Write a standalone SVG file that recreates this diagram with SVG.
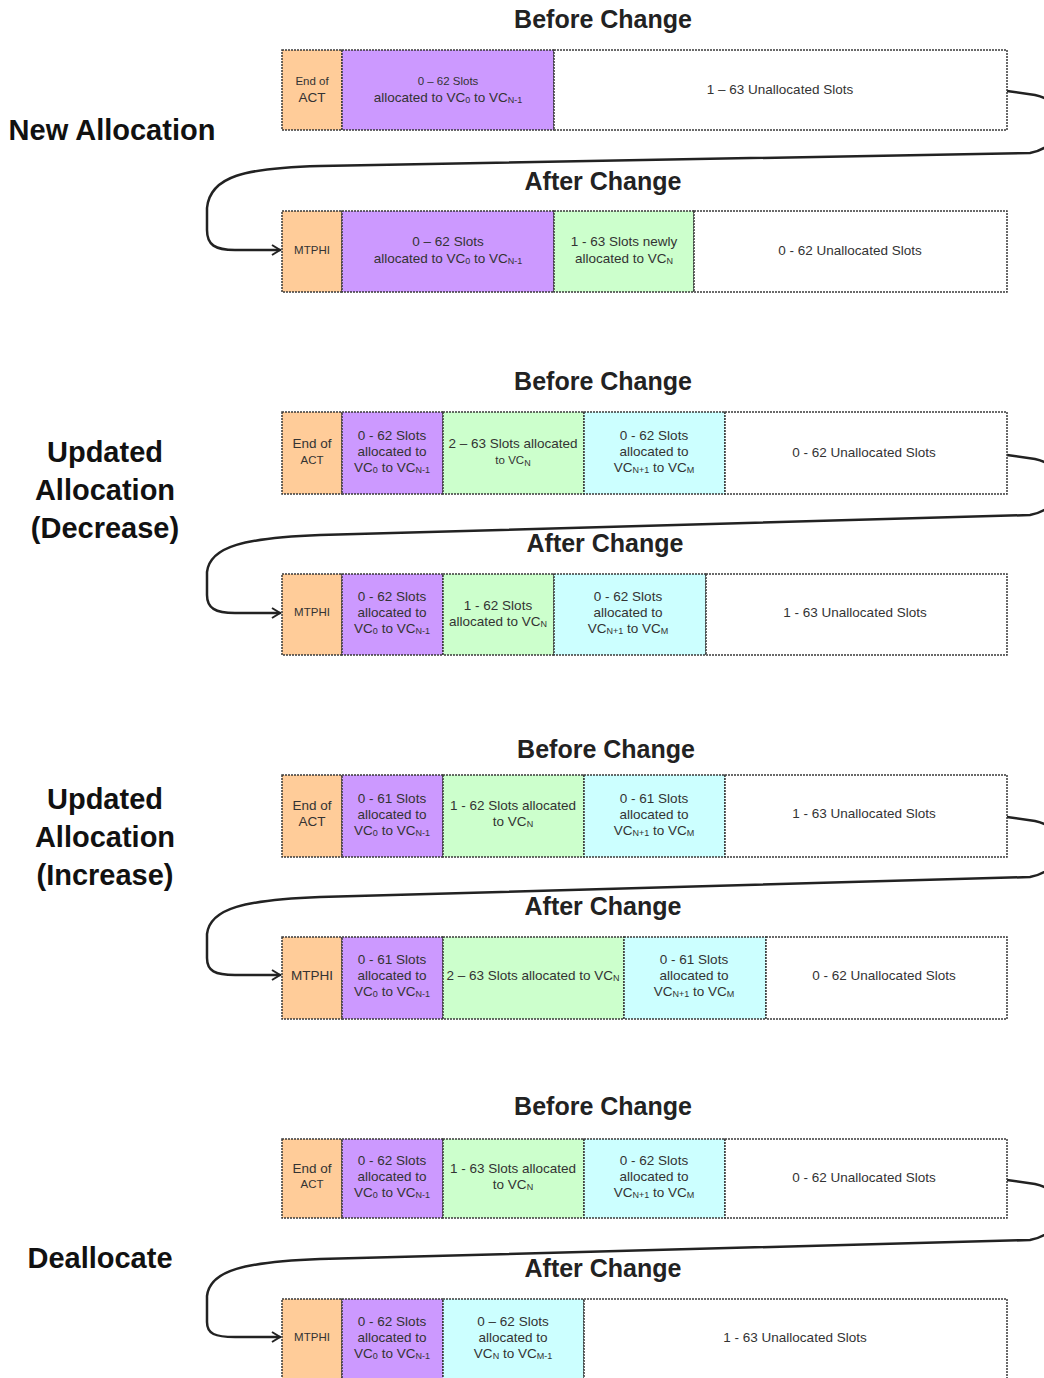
<svg xmlns="http://www.w3.org/2000/svg" width="1044" height="1378" viewBox="0 0 1044 1378">
<style>
.bg{fill:#fff}
.cell{stroke:#3a3a3a;stroke-width:1.5;stroke-dasharray:2 1}
.hdr{fill:#FFCC99}
.pur{fill:#CC99FF}
.grn{fill:#CCFFCC}
.cyn{fill:#CCFFFF}
.wht{fill:#fff}
.t{font-family:"Liberation Sans",Arial,sans-serif;font-size:13.5px;fill:#333;text-anchor:middle;dominant-baseline:central}
.ts{font-family:"Liberation Sans",Arial,sans-serif;font-size:11.5px;fill:#333;text-anchor:middle;dominant-baseline:central}
.title{font-family:"Liberation Sans",Arial,sans-serif;font-size:25px;font-weight:bold;fill:#222;text-anchor:middle}
.lbl{font-family:"Liberation Sans",Arial,sans-serif;font-size:29px;font-weight:bold;fill:#111;text-anchor:middle}
.conn{fill:none;stroke:#222;stroke-width:2.5;stroke-linecap:round}
.sub{font-size:9px}
</style>
<defs>
<marker id="arr" viewBox="0 0 12 12" refX="10" refY="6" markerWidth="12" markerHeight="12" orient="auto" markerUnits="userSpaceOnUse">
<path d="M2,1 L10,6 L2,11" fill="none" stroke="#222" stroke-width="2"/>
</marker>
</defs>
<rect class="bg" x="0" y="0" width="1044" height="1378"/>

<!-- Section labels -->
<g id="label-new"><text class="lbl" x="112" y="140">New Allocation</text></g>
<g id="label-decrease"><text class="lbl" x="105" y="462">Updated</text><text class="lbl" x="105" y="500">Allocation</text><text class="lbl" x="105" y="538">(Decrease)</text></g>
<g id="label-increase"><text class="lbl" x="105" y="809">Updated</text><text class="lbl" x="105" y="847">Allocation</text><text class="lbl" x="105" y="885">(Increase)</text></g>
<g id="label-dealloc"><text class="lbl" x="100" y="1268">Deallocate</text></g>

<!-- Titles -->
<g id="titles">
<text class="title" x="603" y="28">Before Change</text>
<text class="title" x="603" y="190">After Change</text>
<text class="title" x="603" y="390">Before Change</text>
<text class="title" x="605" y="552">After Change</text>
<text class="title" x="606" y="758">Before Change</text>
<text class="title" x="603" y="915">After Change</text>
<text class="title" x="603" y="1115">Before Change</text>
<text class="title" x="603" y="1277">After Change</text>
</g>

<!-- Connectors -->
<g id="connectors">
<path class="conn" marker-end="url(#arr)" d="M1007,91 L1035,95 C1070,102 1068,146 1030,153 L320,166 C245,168 210,176 207,208 L207,230 C207,245 215,250 235,250 L280,250"/>
<path class="conn" marker-end="url(#arr)" d="M1007,455 L1035,459 C1070,466 1068,508 1030,515 L320,535 C245,538 210,546 207,572 L207,595 C207,608 215,613 235,613 L280,613"/>
<path class="conn" marker-end="url(#arr)" d="M1007,817 L1035,821 C1070,828 1068,870 1030,877 L320,897 C245,900 210,908 207,934 L207,958 C207,971 215,975 235,975 L280,975"/>
<path class="conn" marker-end="url(#arr)" d="M1007,1180 L1035,1184 C1070,1191 1068,1233 1030,1240 L320,1259 C245,1262 210,1270 207,1296 L207,1322 C207,1334 215,1337 235,1337 L280,1337"/>
</g>

<!-- Section 1 before -->
<g id="s1-before">
<g id="s1b-hdr"><rect class="cell hdr" x="282" y="50" width="60" height="80"/><text class="ts" x="312" y="81">End of</text><text class="t" x="312" y="97">ACT</text></g>
<g id="s1b-pur"><rect class="cell pur" x="342" y="50" width="212" height="80"/><text class="ts" x="448" y="81">0 – 62 Slots</text><text class="t" x="448" y="97">allocated to VC<tspan class="sub" dy="3">0</tspan><tspan dy="-3"> to VC</tspan><tspan class="sub" dy="3">N-1</tspan></text></g>
<g id="s1b-wht"><rect class="cell wht" x="554" y="50" width="453" height="80"/><text class="t" x="780" y="89">1 – 63 Unallocated Slots</text></g>
</g>

<!-- Section 1 after -->
<g id="s1-after">
<g id="s1a-hdr"><rect class="cell hdr" x="282" y="211" width="60" height="81"/><text class="ts" x="312" y="250">MTPHI</text></g>
<g id="s1a-pur"><rect class="cell pur" x="342" y="211" width="212" height="81"/><text class="t" x="448" y="241">0 – 62 Slots</text><text class="t" x="448" y="258">allocated to VC<tspan class="sub" dy="3">0</tspan><tspan dy="-3"> to VC</tspan><tspan class="sub" dy="3">N-1</tspan></text></g>
<g id="s1a-grn"><rect class="cell grn" x="554" y="211" width="140" height="81"/><text class="t" x="624" y="241">1 - 63 Slots newly</text><text class="t" x="624" y="258">allocated to VC<tspan class="sub" dy="3">N</tspan></text></g>
<g id="s1a-wht"><rect class="cell wht" x="694" y="211" width="313" height="81"/><text class="t" x="850" y="250">0 - 62 Unallocated Slots</text></g>
</g>

<!-- Section 2 before -->
<g id="s2-before">
<g id="s2b-hdr"><rect class="cell hdr" x="282" y="412" width="60" height="82"/><text class="t" x="312" y="443">End of</text><text class="ts" x="312" y="460">ACT</text></g>
<g id="s2b-pur"><rect class="cell pur" x="342" y="412" width="101" height="82"/><text class="t" x="392" y="435">0 - 62 Slots</text><text class="t" x="392" y="451">allocated to</text><text class="t" x="392" y="467">VC<tspan class="sub" dy="3">0</tspan><tspan dy="-3"> to VC</tspan><tspan class="sub" dy="3">N-1</tspan></text></g>
<g id="s2b-grn"><rect class="cell grn" x="443" y="412" width="141" height="82"/><text class="t" x="513" y="443">2 – 63 Slots allocated</text><text class="ts" x="513" y="460">to VC<tspan class="sub" dy="3">N</tspan></text></g>
<g id="s2b-cyn"><rect class="cell cyn" x="584" y="412" width="141" height="82"/><text class="t" x="654" y="435">0 - 62 Slots</text><text class="t" x="654" y="451">allocated to</text><text class="t" x="654" y="467">VC<tspan class="sub" dy="3">N+1</tspan><tspan dy="-3"> to VC</tspan><tspan class="sub" dy="3">M</tspan></text></g>
<g id="s2b-wht"><rect class="cell wht" x="725" y="412" width="282" height="82"/><text class="t" x="864" y="452">0 - 62 Unallocated Slots</text></g>
</g>

<!-- Section 2 after -->
<g id="s2-after">
<g id="s2a-hdr"><rect class="cell hdr" x="282" y="574" width="60" height="81"/><text class="ts" x="312" y="612">MTPHI</text></g>
<g id="s2a-pur"><rect class="cell pur" x="342" y="574" width="101" height="81"/><text class="t" x="392" y="596">0 - 62 Slots</text><text class="t" x="392" y="612">allocated to</text><text class="t" x="392" y="628">VC<tspan class="sub" dy="3">0</tspan><tspan dy="-3"> to VC</tspan><tspan class="sub" dy="3">N-1</tspan></text></g>
<g id="s2a-grn"><rect class="cell grn" x="443" y="574" width="111" height="81"/><text class="t" x="498" y="605">1 - 62 Slots</text><text class="t" x="498" y="621">allocated to VC<tspan class="sub" dy="3">N</tspan></text></g>
<g id="s2a-cyn"><rect class="cell cyn" x="554" y="574" width="152" height="81"/><text class="t" x="628" y="596">0 - 62 Slots</text><text class="t" x="628" y="612">allocated to</text><text class="t" x="628" y="628">VC<tspan class="sub" dy="3">N+1</tspan><tspan dy="-3"> to VC</tspan><tspan class="sub" dy="3">M</tspan></text></g>
<g id="s2a-wht"><rect class="cell wht" x="706" y="574" width="301" height="81"/><text class="t" x="855" y="612">1 - 63 Unallocated Slots</text></g>
</g>

<!-- Section 3 before -->
<g id="s3-before">
<g id="s3b-hdr"><rect class="cell hdr" x="282" y="775" width="60" height="82"/><text class="t" x="312" y="805">End of</text><text class="t" x="312" y="821">ACT</text></g>
<g id="s3b-pur"><rect class="cell pur" x="342" y="775" width="101" height="82"/><text class="t" x="392" y="798">0 - 61 Slots</text><text class="t" x="392" y="814">allocated to</text><text class="t" x="392" y="830">VC<tspan class="sub" dy="3">0</tspan><tspan dy="-3"> to VC</tspan><tspan class="sub" dy="3">N-1</tspan></text></g>
<g id="s3b-grn"><rect class="cell grn" x="443" y="775" width="141" height="82"/><text class="t" x="513" y="805">1 - 62 Slots allocated</text><text class="t" x="513" y="821">to VC<tspan class="sub" dy="3">N</tspan></text></g>
<g id="s3b-cyn"><rect class="cell cyn" x="584" y="775" width="141" height="82"/><text class="t" x="654" y="798">0 - 61 Slots</text><text class="t" x="654" y="814">allocated to</text><text class="t" x="654" y="830">VC<tspan class="sub" dy="3">N+1</tspan><tspan dy="-3"> to VC</tspan><tspan class="sub" dy="3">M</tspan></text></g>
<g id="s3b-wht"><rect class="cell wht" x="725" y="775" width="282" height="82"/><text class="t" x="864" y="813">1 - 63 Unallocated Slots</text></g>
</g>

<!-- Section 3 after -->
<g id="s3-after">
<g id="s3a-hdr"><rect class="cell hdr" x="282" y="937" width="60" height="82"/><text class="t" x="312" y="975">MTPHI</text></g>
<g id="s3a-pur"><rect class="cell pur" x="342" y="937" width="101" height="82"/><text class="t" x="392" y="959">0 - 61 Slots</text><text class="t" x="392" y="975">allocated to</text><text class="t" x="392" y="991">VC<tspan class="sub" dy="3">0</tspan><tspan dy="-3"> to VC</tspan><tspan class="sub" dy="3">N-1</tspan></text></g>
<g id="s3a-grn"><rect class="cell grn" x="443" y="937" width="181" height="82"/><text class="t" x="533" y="975">2 – 63 Slots allocated to VC<tspan class="sub" dy="3">N</tspan></text></g>
<g id="s3a-cyn"><rect class="cell cyn" x="624" y="937" width="142" height="82"/><text class="t" x="694" y="959">0 - 61 Slots</text><text class="t" x="694" y="975">allocated to</text><text class="t" x="694" y="991">VC<tspan class="sub" dy="3">N+1</tspan><tspan dy="-3"> to VC</tspan><tspan class="sub" dy="3">M</tspan></text></g>
<g id="s3a-wht"><rect class="cell wht" x="766" y="937" width="241" height="82"/><text class="t" x="884" y="975">0 - 62 Unallocated Slots</text></g>
</g>

<!-- Section 4 before -->
<g id="s4-before">
<g id="s4b-hdr"><rect class="cell hdr" x="282" y="1139" width="60" height="79"/><text class="t" x="312" y="1168">End of</text><text class="ts" x="312" y="1184">ACT</text></g>
<g id="s4b-pur"><rect class="cell pur" x="342" y="1139" width="101" height="79"/><text class="t" x="392" y="1160">0 - 62 Slots</text><text class="t" x="392" y="1176">allocated to</text><text class="t" x="392" y="1192">VC<tspan class="sub" dy="3">0</tspan><tspan dy="-3"> to VC</tspan><tspan class="sub" dy="3">N-1</tspan></text></g>
<g id="s4b-grn"><rect class="cell grn" x="443" y="1139" width="141" height="79"/><text class="t" x="513" y="1168">1 - 63 Slots allocated</text><text class="t" x="513" y="1184">to VC<tspan class="sub" dy="3">N</tspan></text></g>
<g id="s4b-cyn"><rect class="cell cyn" x="584" y="1139" width="141" height="79"/><text class="t" x="654" y="1160">0 - 62 Slots</text><text class="t" x="654" y="1176">allocated to</text><text class="t" x="654" y="1192">VC<tspan class="sub" dy="3">N+1</tspan><tspan dy="-3"> to VC</tspan><tspan class="sub" dy="3">M</tspan></text></g>
<g id="s4b-wht"><rect class="cell wht" x="725" y="1139" width="282" height="79"/><text class="t" x="864" y="1177">0 - 62 Unallocated Slots</text></g>
</g>

<!-- Section 4 after -->
<g id="s4-after">
<g id="s4a-hdr"><rect class="cell hdr" x="282" y="1299" width="60" height="90"/><text class="ts" x="312" y="1337">MTPHI</text></g>
<g id="s4a-pur"><rect class="cell pur" x="342" y="1299" width="101" height="90"/><text class="t" x="392" y="1321">0 - 62 Slots</text><text class="t" x="392" y="1337">allocated to</text><text class="t" x="392" y="1353">VC<tspan class="sub" dy="3">0</tspan><tspan dy="-3"> to VC</tspan><tspan class="sub" dy="3">N-1</tspan></text></g>
<g id="s4a-cyn"><rect class="cell cyn" x="443" y="1299" width="141" height="90"/><text class="t" x="513" y="1321">0 – 62 Slots</text><text class="t" x="513" y="1337">allocated to</text><text class="t" x="513" y="1353">VC<tspan class="sub" dy="3">N</tspan><tspan dy="-3"> to VC</tspan><tspan class="sub" dy="3">M-1</tspan></text></g>
<g id="s4a-wht"><rect class="cell wht" x="584" y="1299" width="423" height="90"/><text class="t" x="795" y="1337">1 - 63 Unallocated Slots</text></g>
</g>
</svg>
